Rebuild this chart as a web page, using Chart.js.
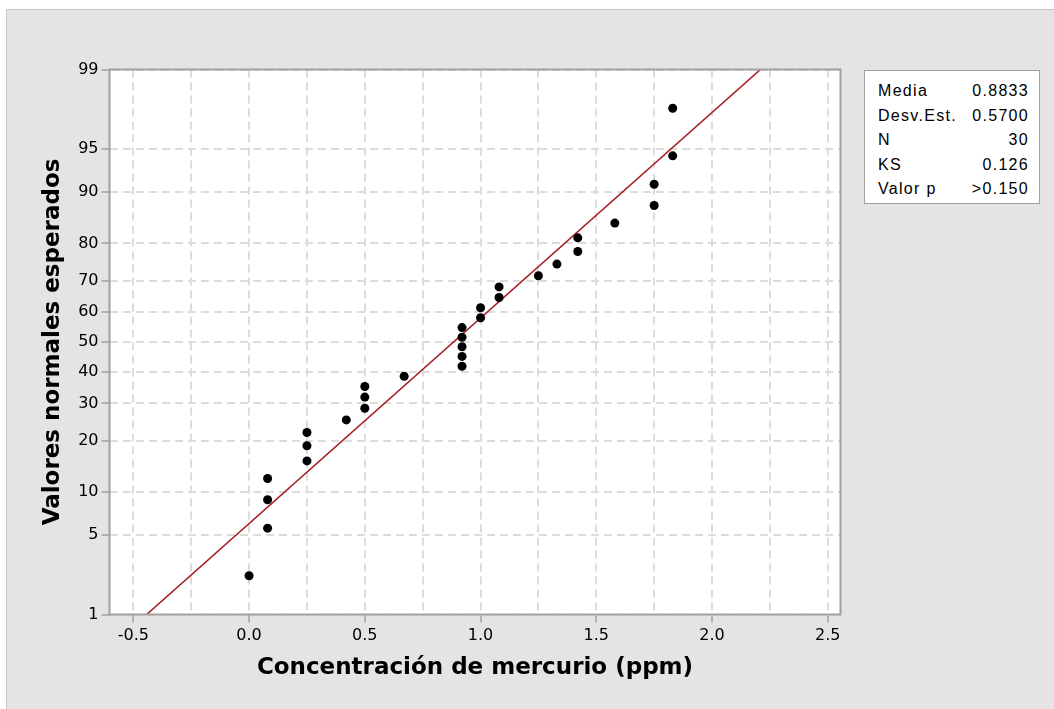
<!DOCTYPE html>
<html>
<head>
<meta charset="utf-8">
<script src="https://cdn.jsdelivr.net/npm/chart.js@4"></script>
<style>
  html, body { margin: 0; padding: 0; background: #fff; }
  #fondo { position: absolute; left: 6px; top: 9px; width: 1054px; height: 709px;
           background: #e4e4e4; border-left: 1px solid #c8c8c8; border-top: 1px solid #c8c8c8; }
  #grafico { position: absolute; left: 0; top: 0; }
  #stats { position: absolute; left: 864px; top: 70px; width: 174px; height: 132px;
           background: #fff; border: 1px solid #a0a0a0; box-sizing: content-box;
           font-family: "Liberation Sans", Arial, sans-serif; font-size: 16px; letter-spacing: 1.3px; color: #000; }
  #stats table { border-collapse: collapse; margin: 8px 0 0 13px; width: 151px; }
  #stats td { padding: 0; line-height: 24.5px; height: 24.5px; white-space: nowrap; }
  #stats td.v { text-align: right; }
</style>
</head>
<body>
<div id="fondo"></div>
<canvas id="grafico" width="1054" height="709"></canvas>
<div id="stats">
  <table id="tabla"></table>
</div>
<script>
// datos
const mercurio = [0.00, 0.08, 0.08, 0.08, 0.25, 0.25, 0.25, 0.42, 0.50, 0.50,
                  0.50, 0.67, 0.92, 0.92, 0.92, 0.92, 0.92, 1.00, 1.00, 1.08,
                  1.08, 1.25, 1.33, 1.42, 1.42, 1.58, 1.75, 1.75, 1.83, 1.83];
const percentil = [2.3, 5.6, 8.9, 12.2, 15.5, 18.8, 22.0, 25.3, 28.6, 31.9,
                   35.2, 38.5, 41.8, 45.1, 48.4, 51.6, 54.9, 58.2, 61.5, 64.8,
                   68.1, 71.4, 74.7, 78.0, 81.3, 84.5, 87.8, 91.1, 94.4, 97.7];
const yTicks = [1, 5, 10, 20, 30, 40, 50, 60, 70, 80, 90, 95, 99];
const media = 0.8833;
const desvEst = 0.5700;
const statsLabels = ['Media', 'Desv.Est.', 'N', 'KS', 'Valor p'];
const statsValues = ['0.8833', '0.5700', '30', '0.126', '>0.150'];

// inversa de la normal (Acklam), percentil -> z
function probit(pct) {
  const p = pct / 100;
  const a = [-3.969683028665376e+01, 2.209460984245205e+02, -2.759285104469687e+02,
             1.383577518672690e+02, -3.066479806614716e+01, 2.506628277459239e+00];
  const b = [-5.447609879822406e+01, 1.615858368580409e+02, -1.556989798598866e+02,
             6.680131188771972e+01, -1.328068155288572e+01];
  const c = [-7.784894002430293e-03, -3.223964580411365e-01, -2.400758277161838e+00,
             -2.549732539343734e+00, 4.374664141464968e+00, 2.938163982698783e+00];
  const d = [7.784695709041462e-03, 3.224671290700398e-01, 2.445134137142996e+00,
             3.754408661907416e+00];
  const pl = 0.02425;
  let q, r;
  if (p < pl) {
    q = Math.sqrt(-2 * Math.log(p));
    return (((((c[0]*q+c[1])*q+c[2])*q+c[3])*q+c[4])*q+c[5]) / ((((d[0]*q+d[1])*q+d[2])*q+d[3])*q+1);
  } else if (p <= 1 - pl) {
    q = p - 0.5; r = q * q;
    return (((((a[0]*r+a[1])*r+a[2])*r+a[3])*r+a[4])*r+a[5])*q / (((((b[0]*r+b[1])*r+b[2])*r+b[3])*r+b[4])*r+1);
  } else {
    q = Math.sqrt(-2 * Math.log(1 - p));
    return -(((((c[0]*q+c[1])*q+c[2])*q+c[3])*q+c[4])*q+c[5]) / ((((d[0]*q+d[1])*q+d[2])*q+d[3])*q+1);
  }
}

const tabla = document.getElementById('tabla');
statsLabels.forEach((lab, i) => {
  const tr = document.createElement('tr');
  tr.innerHTML = '<td>' + lab + '</td><td class="v">' + statsValues[i] + '</td>';
  tabla.appendChild(tr);
});

const puntos = mercurio.map((x, i) => ({ x: x, y: probit(percentil[i]) }));
const lineaAjuste = [1, 99].map(p => ({ x: media + desvEst * probit(p), y: probit(p) }));

const marco = {
  id: 'marco',
  beforeDraw(chart) {
    const { ctx, chartArea: a } = chart;
    ctx.save();
    ctx.fillStyle = '#fff';
    ctx.fillRect(a.left, a.top, a.right - a.left, a.bottom - a.top);
    ctx.restore();
  },
  afterDraw(chart) {
    const { ctx, chartArea: a } = chart;
    ctx.save();
    ctx.strokeStyle = '#a0a0a0';
    ctx.lineWidth = 2;
    ctx.strokeRect(a.left, a.top, a.right - a.left, a.bottom - a.top);
    ctx.restore();
  }
};

const esMayor = v => Math.abs(v * 2 - Math.round(v * 2)) < 1e-6;

new Chart(document.getElementById('grafico'), {
  type: 'scatter',
  data: {
    datasets: [
      {
        type: 'line',
        data: lineaAjuste,
        borderColor: '#a31f24',
        borderWidth: 1.6,
        pointRadius: 0,
        fill: false,
        order: 2
      },
      {
        data: puntos,
        backgroundColor: '#000',
        borderColor: '#000',
        pointRadius: 4.5,
        borderWidth: 0,
        order: 1
      }
    ]
  },
  options: {
    responsive: false,
    animation: false,
    layout: { padding: { left: 0, top: 69.5, right: 213.5, bottom: 0 } },
    plugins: { legend: { display: false }, tooltip: { enabled: false } },
    scales: {
      x: {
        type: 'linear',
        min: -0.603,
        max: 2.555,
        afterFit: s => { s.height = 94.5; },
        ticks: {
          stepSize: 0.25,
          includeBounds: false,
          autoSkip: false,
          maxRotation: 0,
          padding: 4,
          color: '#000',
          font: { family: 'DejaVu Sans', size: 16 },
          callback: v => esMayor(v) ? v.toFixed(1) : ''
        },
        grid: {
          color: '#dcdcdc',
          lineWidth: 2,
          tickLength: 8,
          tickWidth: 1.5,
          tickColor: c => (c.tick && esMayor(c.tick.value)) ? '#a0a0a0' : 'rgba(0,0,0,0)'
        },
        border: { display: false, dash: [8, 5] },
        title: {
          display: true,
          text: 'Concentración de mercurio (ppm)',
          color: '#000',
          font: { family: 'DejaVu Sans', size: 23, weight: 'bold' },
          padding: { top: 0, bottom: 27 }
        }
      },
      y: {
        type: 'linear',
        min: probit(1),
        max: probit(99),
        afterFit: s => { s.width = 109.5; },
        afterBuildTicks: s => { s.ticks = yTicks.map(p => ({ value: probit(p) })); },
        ticks: {
          autoSkip: false,
          padding: 3,
          color: '#000',
          font: { family: 'DejaVu Sans', size: 16 },
          callback: (v, i) => String(yTicks[i])
        },
        grid: {
          color: '#dcdcdc',
          lineWidth: 2,
          tickLength: 8,
          tickWidth: 1.5,
          tickColor: '#a0a0a0'
        },
        border: { display: false, dash: [8, 5] },
        title: {
          display: true,
          text: 'Valores normales esperados',
          color: '#000',
          font: { family: 'DejaVu Sans', size: 23, weight: 'bold' },
          padding: { top: 39, bottom: 0 }
        }
      }
    }
  },
  plugins: [marco]
});
</script>
</body>
</html>
